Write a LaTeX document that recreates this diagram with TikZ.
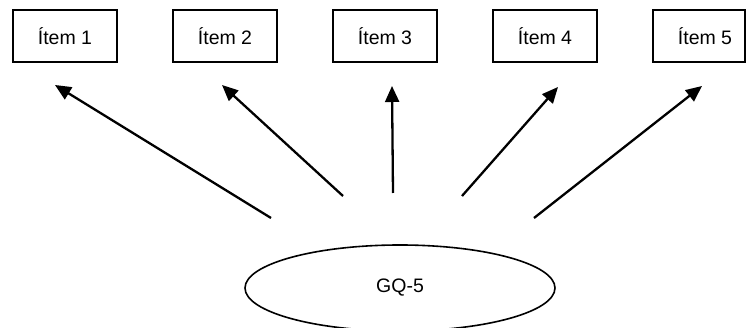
\documentclass[tikz,border=0pt]{standalone}
\usepackage{fontspec}
\setmainfont{Liberation Sans}
\usetikzlibrary{arrows.meta,shapes.geometric}
\begin{document}
\begin{tikzpicture}[x=1pt,y=-1pt,
  itembox/.style={draw,line width=1.8pt,minimum width=104pt,minimum height=52pt,inner sep=0pt,font=\fontsize{19.5}{22}\selectfont},
  conn/.style={line width=2.3pt,-{Triangle[length=16pt,width=14pt]}}]
\useasboundingbox (0,0) rectangle (747,328);
\node[itembox] (i1) at (65,36) {Ítem 1};
\node[itembox] (i2) at (225,36) {Ítem 2};
\node[itembox] (i3) at (385,36) {Ítem 3};
\node[itembox] (i4) at (545,36) {Ítem 4};
\node[itembox,minimum width=92pt] (i5) at (699,36) {\hspace*{12pt}Ítem 5};
\node[draw,ellipse,line width=1.6pt,minimum width=310pt,minimum height=86pt,inner sep=0pt,font=\fontsize{19.5}{22}\selectfont] (g) at (400,288) {GQ-5};
\coordinate (s1) at (271,218); \coordinate (t1) at (55,85);
\coordinate (s2) at (343,196); \coordinate (t2) at (222,85);
\coordinate (s3) at (393,193); \coordinate (t3) at (392,86);
\coordinate (s4) at (462,196); \coordinate (t4) at (558,87);
\coordinate (s5) at (534,218); \coordinate (t5) at (702,86);
\foreach \k in {1,...,5} \draw[conn] (s\k) -- (t\k);
\end{tikzpicture}
\end{document}
